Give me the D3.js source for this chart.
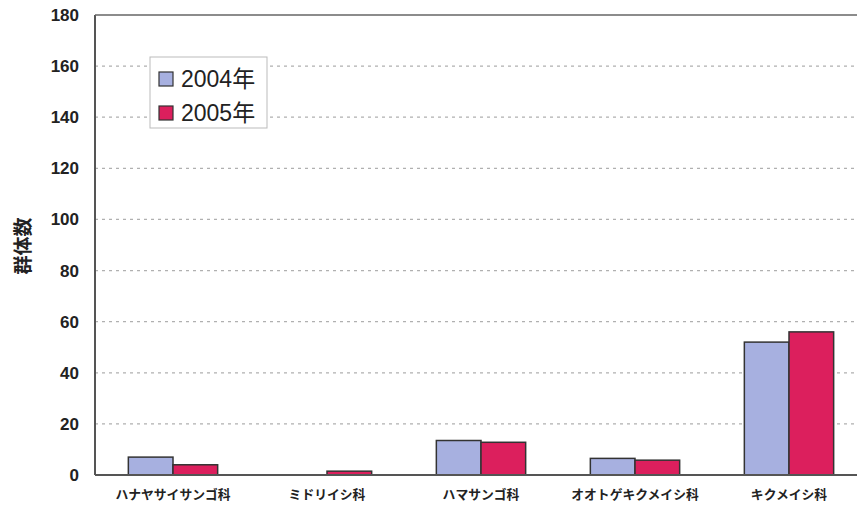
<!DOCTYPE html>
<html><head><meta charset="utf-8">
<script src="https://cdn.jsdelivr.net/npm/d3@7"></script>
<style>body{margin:0;background:#fff;}svg{display:block;}</style>
</head><body>
<svg id="c" width="857" height="513"></svg>
<script>
const categories = ["ハナヤサイサンゴ科","ミドリイシ科","ハマサンゴ科","オオトゲキクメイシ科","キクメイシ科"];
const seriesNames = ["2004年","2005年"];
const values2004 = [7, 0, 13.5, 6.5, 52];
const values2005 = [4, 1.5, 12.8, 5.8, 56];
const yTicks = [0,20,40,60,80,100,120,140,160,180];
const colors = ["#a7b0e0","#dc1f5d"];

const svg = d3.select("#c");
const L = 95, T = 15, B = 475;
const x = d3.scaleBand().domain(categories).range([96, 866]).paddingInner(0.42).paddingOuter(0.21);
const x1 = d3.scaleBand().domain(seriesNames).range([0, x.bandwidth()]);
const y = d3.scaleLinear().domain([0,180]).range([B, T]);

// grid
svg.append("g").selectAll("line").data(yTicks.filter(d=>d>0 && d<180)).join("line")
  .attr("x1", L).attr("x2", 857).attr("y1", d=>y(d)).attr("y2", d=>y(d))
  .attr("stroke", "#b0b0b0").attr("stroke-width", 1.2).attr("stroke-dasharray", "3,4");

// bars
const data = categories.map((c,i)=>({c, v:[values2004[i], values2005[i]]}));
const g = svg.append("g");
data.forEach(d=>{
  d.v.forEach((v,j)=>{
    if (v <= 0) return;
    g.append("rect")
      .attr("x", x(d.c) + x1(seriesNames[j]))
      .attr("y", y(v))
      .attr("width", x1.bandwidth())
      .attr("height", B - y(v))
      .attr("fill", colors[j]).attr("stroke", "#333").attr("stroke-width", 1.5);
  });
});

// axes frame
svg.append("line").attr("x1", L).attr("x2", L).attr("y1", T).attr("y2", B).attr("stroke","#555").attr("stroke-width",2);
svg.append("line").attr("x1", L).attr("x2", 857).attr("y1", T).attr("y2", T).attr("stroke","#666").attr("stroke-width",1.5);
svg.append("line").attr("x1", L).attr("x2", 857).attr("y1", B).attr("y2", B).attr("stroke","#555").attr("stroke-width",2);

// y axis labels
const yAxis = d3.axisLeft(y).tickValues(yTicks).tickSize(0).tickPadding(16);
const ya = svg.append("g").attr("transform", `translate(${L},0)`).call(yAxis);
ya.select(".domain").remove();
ya.selectAll("text").attr("font-family","Liberation Sans, Arial, sans-serif").attr("font-size",17).attr("font-weight","bold").attr("fill","#222");

// x labels
const xAxis = d3.axisBottom(x).tickSize(0).tickPadding(15);
const xa = svg.append("g").attr("transform", `translate(0,${B})`).call(xAxis);
xa.select(".domain").remove();
xa.selectAll("text").attr("font-family","Noto Sans CJK JP, sans-serif").attr("font-size",12.8).attr("font-weight","bold").attr("fill","#222");

// y title
svg.append("text").attr("transform","translate(30,246) rotate(-90)").attr("text-anchor","middle")
  .attr("font-family","Noto Sans CJK JP, sans-serif").attr("font-size",19).attr("font-weight","bold").attr("fill","#222").text("群体数");

// legend
const lg = svg.append("g");
lg.append("rect").attr("x",150).attr("y",57).attr("width",117).attr("height",71).attr("fill","#fff").attr("stroke","#bbb");
seriesNames.forEach((s,i)=>{
  const cy = 79 + i*34;
  lg.append("rect").attr("x",159).attr("y",cy-7).attr("width",14).attr("height",14).attr("fill",colors[i]).attr("stroke","#333").attr("stroke-width",1.2);
  lg.append("text").attr("x",181).attr("y",cy+8).attr("font-family","Liberation Sans, Noto Sans CJK JP, sans-serif").attr("font-size",23).attr("fill","#222").text(s);
});
</script>
</body></html>
